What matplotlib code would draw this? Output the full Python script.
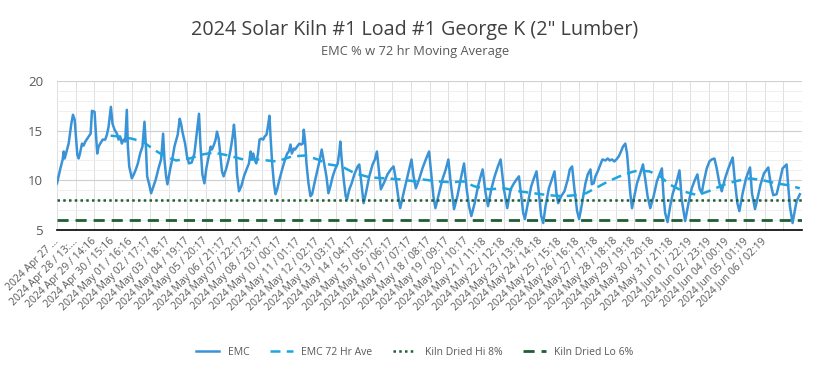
"""EMC chart for solar kiln load #1 with 72 hr moving average and kiln-dried limits."""
import matplotlib
matplotlib.use("Agg")
import matplotlib.pyplot as plt
from matplotlib.ticker import FixedLocator, MultipleLocator

plt.rcParams.update({"font.family": ["Open Sans", "DejaVu Sans"], "figure.dpi": 100})

TITLE = '2024 Solar Kiln #1 Load #1 George K (2" Lumber)'
SUBTITLE = "EMC % w 72 hr Moving Average"

# hours since the first reading
emc_hours = [
    0, 4.5, 7.6, 8.9, 10.3, 13.4, 15.6, 19.2, 21.4, 23.7, 25.4, 27.2, 29.0, 30.8,
    33.5, 35.7, 37.9, 42.4, 45.1, 46.9, 50.4, 52.2, 54.0, 55.8, 58.0, 61.2, 64.7,
    67.0, 69.2, 72.3, 74.5, 77.2, 80.4, 82.6, 84.8, 87.0, 89.3, 91.5, 93.7, 95.1,
    96.9, 100.4, 103.1, 105.8, 108.5, 111.6, 114.7, 117.4, 119.2, 121.0, 123.7,
    126.3, 129.5, 132.6, 136.2, 139.7, 142.4, 144.2, 146.4, 148.2, 151.8, 154.9,
    157.6, 159.4, 162.0, 164.7, 166.5, 168.3, 171.9, 174.5, 177.2, 180.8, 184.4,
    187.5, 190.6, 192.4, 195.1, 197.8,
    200.4, 203.6, 206.2, 208.0, 210.7, 212.9, 214.7, 217.0, 218.7, 221.4, 223.6,
    227.2, 230.3, 233.0, 235.7, 237.5, 239.3, 241.5, 244.2, 247.3, 250.9, 254.4,
    257.6, 259.8, 261.6, 263.4, 265.2, 267.4, 269.6, 271.9, 274.1, 276.8, 278.6,
    281.2, 283.0, 285.2, 286.6, 288.8, 291.1, 293.3, 295.5, 298.6, 302.2, 305.3,
    308.9, 311.1, 313.4, 315.2, 317.8, 319.6, 322.3, 325.4, 327.7, 329.9, 331.2,
    333.0, 334.8, 337.5, 340.2, 342.4, 345.5, 349.1, 352.2, 355.3, 357.6, 359.8,
    361.6, 364.3, 366.9, 370.1, 373.2, 376.8, 379.0, 380.3, 382.1, 384.8, 387.5,
    389.3, 392.4, 395.5, 399.1, 403.5,
    405.7, 411.5, 414.6, 419.1, 423.6, 426.7, 429.4, 432.5, 434.7, 439.2, 443.6,
    448.1, 451.7, 454.8, 457.9, 460.6, 465.1, 469.5, 472.7, 475.8, 478.5, 481.6,
    486.0, 490.5, 495.0, 499.4, 502.6, 505.2, 507.9, 512.8, 517.3, 521.8, 525.3,
    528.5, 532.9, 537.4, 541.8, 546.3, 549.9, 553.0, 556.1, 560.6, 565.1, 568.6,
    571.3, 575.3, 578.5, 582.9, 587.4, 591.8, 595.4, 599.9, 604.3,
    608.8, 613.3, 616.9, 620.0, 623.1, 625.8, 628.0, 632.0, 636.5, 640.1, 643.6,
    646.8, 649.9, 652.6, 655.7, 660.2, 663.3, 667.8, 670.4, 672.7, 676.7, 681.1,
    685.6, 688.3, 691.4, 694.5, 698.1, 700.8, 704.8, 709.3, 712.4, 716.0, 717.8,
    720.4, 722.7, 725.8, 729.4, 732.0, 736.1, 739.2, 741.9, 745.0, 748.1, 750.8,
    753.9, 757.0, 759.7, 762.8, 765.1, 767.3, 769.5, 771.8, 774.9, 778.5, 782.9,
    786.5, 789.6, 792.7, 796.3, 800.8,
    805.2, 808.7, 811.9, 814.1, 816.3, 819.5, 823.0, 826.6, 831.1, 835.5, 838.6,
    843.1, 847.6, 852.0, 856.5, 859.6, 862.3, 865.4, 867.7, 872.1, 875.7, 878.8,
    882.4, 885.5, 889.1, 892.2, 896.7, 901.1, 906.9, 910.1, 913.2, 915.9, 920.3,
    924.8, 930.2, 932.8, 936.9, 940.0, 944.4, 948.9, 954.7, 957.8, 961.4, 965.9,
    969.4, 973.9, 979.3, 981.5, 983.7, 987.3, 990.4, 992.7, 997.1,
]
emc_values = [
    9.7, 11.2, 12.1, 12.9, 12.2, 13.1, 13.7, 15.7, 16.6, 16.1, 14.4, 12.6, 12.2, 12.7,
    13.7, 13.5, 13.9, 14.4, 14.7, 17.0, 16.9, 14.7, 12.7, 13.4, 13.7, 14.1, 14.1,
    14.6, 15.4, 17.4, 15.7, 15.1, 14.7, 14.1, 14.4, 13.7, 14.1, 13.9, 17.1, 13.4,
    11.4, 10.2, 10.6, 11.1, 11.7, 12.7, 13.4, 15.9, 13.6, 10.4, 9.6,
    8.7, 9.4, 10.1, 11.2, 12.1, 14.7, 12.1, 10.4, 9.6, 11.1, 12.2,
    13.4, 13.9, 14.6, 16.2, 15.7, 14.9, 13.7, 12.4, 11.7, 11.8, 12.7,
    14.7, 16.7, 13.7, 10.6, 9.7,
    11.2, 12.4, 13.4, 13.1, 13.6, 14.1, 14.9, 14.2, 12.9, 10.9, 10.4,
    11.2, 12.1, 13.1, 14.4, 15.6, 14.1, 10.7, 8.9, 9.4, 10.4, 11.1,
    11.7, 12.9, 12.1, 12.7, 12.1, 11.7, 12.6, 14.1, 14.2, 14.1, 14.4,
    14.6, 15.4, 16.5, 14.4, 11.7, 9.7, 8.6, 9.1, 10.1, 11.1, 11.9,
    12.7, 12.9, 13.6, 12.7, 13.2, 13.1, 13.4, 13.7, 13.6, 13.7, 15.1,
    13.9, 11.7, 9.7, 8.4, 8.6, 9.7, 10.9, 11.9, 13.1, 12.1, 11.2,
    10.4, 8.7, 9.4, 10.4, 11.1, 11.7, 12.9, 13.9, 12.1, 10.1, 8.4,
    8.1, 9.1, 9.7, 10.6, 11.4,
    11.6, 7.7, 8.7, 10.4, 11.6, 12.1, 12.9, 10.7, 9.1, 9.8, 10.6,
    11.1, 11.4, 10.1, 8.4, 7.2, 8.7, 10.1, 11.1, 12.1, 10.4, 9.2,
    10.1, 11.2, 12.1, 12.9, 10.4, 8.4, 7.2, 8.7, 10.1, 11.1, 12.1,
    9.7, 7.1, 8.4, 10.1, 11.7, 9.1, 7.4, 6.4, 7.7, 9.4, 10.4,
    11.1, 8.7, 7.4, 9.1, 10.4, 11.4, 12.1, 9.1, 7.2,
    9.1, 9.7, 10.1, 10.4, 8.4, 6.7, 6.1, 7.7, 9.4, 10.2, 10.9,
    8.7, 6.4, 5.7, 7.4, 9.2, 9.9, 10.9, 8.7, 7.7, 8.4, 8.9,
    10.1, 11.1, 11.4, 9.1, 6.9, 6.1, 7.7, 9.7, 10.6, 11.1, 9.6,
    9.7, 10.4, 10.9, 11.6, 12.1, 12.0, 12.2, 12.0, 12.1, 11.9, 12.1,
    12.4, 12.9, 13.4, 13.7, 12.7, 10.7, 8.7, 7.2, 8.4, 9.7, 10.7,
    11.6, 10.1, 8.4, 7.2, 8.4,
    9.9, 10.6, 11.2, 8.4, 6.7, 5.8, 7.4, 8.7, 9.7, 11.0, 8.0,
    5.9, 7.7, 9.2, 10.1, 10.6, 9.2, 8.7, 9.7, 11.2, 11.9, 12.1,
    12.2, 11.2, 9.7, 8.9, 10.2, 11.2, 12.3, 9.7, 7.7, 6.9, 8.7,
    10.2, 11.3, 8.7, 7.1, 8.1, 9.6, 10.7, 11.3, 9.7, 8.5, 8.6,
    9.7, 11.2, 11.6, 9.4, 7.4, 5.7, 7.0, 7.9, 8.6,
]

ma_hours = [
    72, 85, 100, 115, 130, 145, 160, 178, 195, 210, 230, 250, 270, 295, 315, 333,
    350, 365, 382, 400, 420, 440, 460, 480, 490, 510, 530, 545, 560, 580, 600,
    620, 640, 660, 680, 695, 710, 725, 740, 755, 770, 780, 795, 808, 822, 840,
    860, 878, 893, 910, 930, 948, 965, 982, 997,
]
ma_values = [
    14.5, 14.4, 14.2, 13.9, 13.1, 12.4, 12.0, 12.2, 12.6, 12.8, 12.5, 12.1, 12.1,
    11.9, 12.4, 12.5, 12.1, 11.6, 11.4, 10.7, 10.3, 10.2, 10.1, 9.9, 10.1, 9.9,
    9.8, 9.9, 9.4, 9.1, 9.2, 8.9, 8.7, 8.5, 8.4, 8.5, 8.7, 9.3, 9.9, 10.4, 10.8,
    11.0, 10.9, 10.5, 9.6, 8.9, 8.5, 9.0, 9.5, 9.9, 10.2, 10.0, 9.7, 9.5, 9.2,
]

KILN_HI = 8
KILN_LO = 6

tick_labels = [
    "2024 Apr 27 ...", "2024 Apr 28 / 13:...", "2024 Apr 29 / 14:16",
    "2024 Apr 30 / 15:16", "2024 May 01 / 16:16", "2024 May 02 / 17:17",
    "2024 May 03 / 18:17", "2024 May 04 / 19:17", "2024 May 05 / 20:17",
    "2024 May 06 / 21:17", "2024 May 07 / 22:17", "2024 May 08 / 23:17",
    "2024 May 10 / 00:17", "2024 May 11 / 01:17", "2024 May 12 / 02:17",
    "2024 May 13 / 03:17", "2024 May 14 / 04:17", "2024 May 15 / 05:17",
    "2024 May 16 / 06:17", "2024 May 17 / 07:17", "2024 May 18 / 08:17",
    "2024 May 19 / 09:17", "2024 May 20 / 10:17", "2024 May 21 / 11:18",
    "2024 May 22 / 12:18", "2024 May 23 / 13:18", "2024 May 24 / 14:18",
    "2024 May 25 / 15:18", "2024 May 26 / 16:18", "2024 May 27 / 17:18",
    "2024 May 28 / 18:18", "2024 May 29 / 19:18", "2024 May 30 / 20:18",
    "2024 May 31 / 21:18", "2024 Jun 01 / 22:19", "2024 Jun 02 / 23:19",
    "2024 Jun 04 / 00:19", "2024 Jun 05 / 01:19", "2024 Jun 06 / 02:19",
]
TICK_STEP = 25  # hours between labels
X_END = 1000

EMC_COLOR = "#3a93d6"
MA_COLOR = "#1ea5e0"
KILN_COLOR = "#1f5f32"
TEXT_GRAY = "#595959"


def main():
    fig = plt.figure(figsize=(8.3, 3.73))
    ax = fig.add_axes([0.0687, 0.3834, 0.8976, 0.3994])

    ax.plot(emc_hours, emc_values, color=EMC_COLOR, lw=1.8, label="EMC",
            solid_joinstyle="round")
    ax.plot(ma_hours, ma_values, color=MA_COLOR, lw=1.8, ls=(0, (4, 2.5)),
            label="EMC 72 Hr Ave")
    ax.axhline(KILN_HI, color=KILN_COLOR, lw=1.8, ls=(0, (1, 1.3)),
               label="Kiln Dried Hi 8%")
    ax.axhline(KILN_LO, color=KILN_COLOR, lw=2.0, ls=(0, (4, 2.5)),
               label="Kiln Dried Lo 6%")

    ax.set_xlim(0, X_END)
    ax.set_ylim(5, 20)
    ax.yaxis.set_major_locator(FixedLocator([5, 10, 15, 20]))
    ax.yaxis.set_minor_locator(MultipleLocator(1))

    ax.grid(True, which="major", axis="y", color="#cfcfcf", lw=0.8)
    ax.grid(True, which="minor", axis="y", color="#ececec", lw=0.6)
    ax.grid(True, which="major", axis="x", color="#dadada", lw=0.6)
    ax.set_axisbelow(True)

    positions = [i * TICK_STEP for i in range(len(tick_labels))]
    ax.set_xticks(positions)
    ax.set_xticklabels(tick_labels, rotation=45, ha="right", va="center",
                       rotation_mode="anchor", fontsize=7.5, color=TEXT_GRAY)
    ax.tick_params(axis="x", length=0, pad=7)
    ax.tick_params(axis="y", which="both", length=0, pad=10, labelsize=9.5,
                   labelcolor=TEXT_GRAY)
    # gridlines for the unlabeled tail of the axis
    for x in range(len(tick_labels) * TICK_STEP, X_END + 1, TICK_STEP):
        ax.axvline(x, color="#dadada", lw=0.6, zorder=0)

    for side in ("top", "right", "left"):
        ax.spines[side].set_visible(False)
    ax.spines["bottom"].set_color("black")
    ax.spines["bottom"].set_linewidth(1.2)

    fig.text(0.5, 0.92, TITLE, ha="center", va="center", fontsize=14.2,
             color="#404040")
    fig.text(0.5, 0.861, SUBTITLE, ha="center", va="center", fontsize=9.3,
             color=TEXT_GRAY)

    fig.legend(loc="center", bbox_to_anchor=(0.5, 0.056), ncol=4, frameon=False,
               fontsize=7.5, handlelength=2.2, columnspacing=2.0,
               labelcolor=TEXT_GRAY)

    fig.savefig("out.png", dpi=100)


if __name__ == "__main__":
    main()
